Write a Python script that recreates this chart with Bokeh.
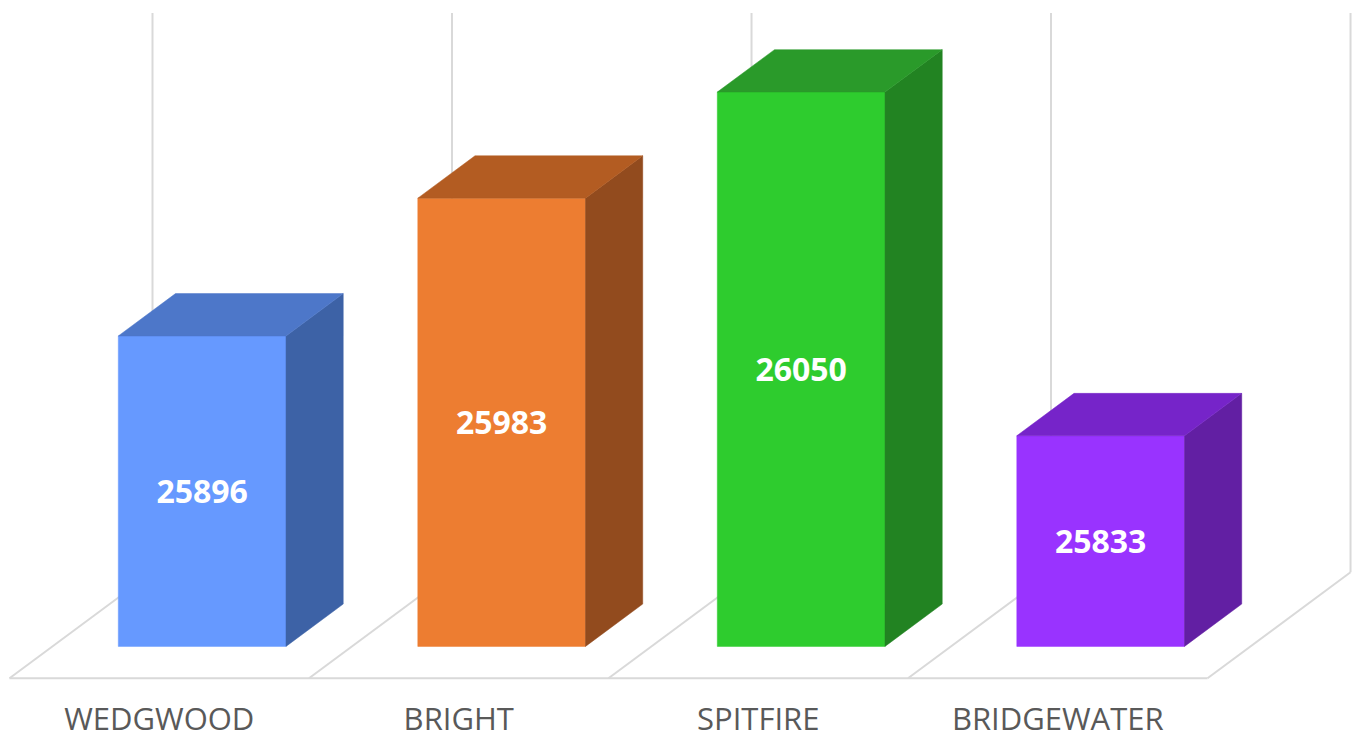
from bokeh.plotting import figure
from bokeh.models import Range1d
from bokeh.core.properties import value
from bokeh.embed import file_html
from bokeh.resources import INLINE

# ---- data ----
categories = ["WEDGWOOD", "BRIGHT", "SPITFIRE", "BRIDGEWATER"]
values = [25896, 25983, 26050, 25833]
front_colors = ["#6699ff", "#ed7d31", "#2ecc2e", "#9933ff"]
top_colors = ["#4d77c9", "#b35c22", "#2a9a2a", "#7624c9"]
side_colors = ["#3d62a6", "#924b1e", "#228322", "#621fa3"]

AXIS_MIN = 25700
WALL_TOP = 26053

# ---- 3D projection settings (x in category units, y in value units) ----
DX = 0.4775      # x shift for full floor depth
DY = 66.9        # value shift for full floor depth
Z_FRONT = 0.3
Z_BACK = 0.7
BAR_W = 0.56
LABEL_DROP = 45  # value units below floor for category label centre


def P(x, z, v):
    return x + z * DX, v + (z - Z_FRONT) * DY


p = figure(width=1360, height=740, output_backend="svg", toolbar_location=None,
           x_range=Range1d(-0.03005, 4.5108), y_range=Range1d(25640.6, 26107.8),
           x_axis_type=None, y_axis_type=None, min_border=0,
           min_border_left=0, min_border_right=0, min_border_top=0, min_border_bottom=0)
p.grid.visible = False
p.outline_line_color = None
p.background_fill_color = "white"

n = len(categories)

# floor + back wall gridlines
xs, ys = [], []
a, b = P(0, 0, AXIS_MIN), P(n, 0, AXIS_MIN)
xs.append([a[0], b[0]]); ys.append([a[1], b[1]])
for k in range(n + 1):
    a, b = P(k, 0, AXIS_MIN), P(k, 1, AXIS_MIN)
    xs.append([a[0], b[0]]); ys.append([a[1], b[1]])
    a, b = P(k, 1, AXIS_MIN), P(k, 1, WALL_TOP)
    xs.append([a[0], b[0]]); ys.append([a[1], b[1]])
p.multi_line(xs, ys, line_color="#d9d9d9", line_width=2)

# bars
fx, fy, sx, sy, tx, ty = [], [], [], [], [], []
for i, v in enumerate(values):
    xl = i + 0.5 - BAR_W / 2
    xr = xl + BAR_W
    front = [P(xl, Z_FRONT, AXIS_MIN), P(xr, Z_FRONT, AXIS_MIN), P(xr, Z_FRONT, v), P(xl, Z_FRONT, v)]
    side = [P(xr, Z_FRONT, AXIS_MIN), P(xr, Z_BACK, AXIS_MIN), P(xr, Z_BACK, v), P(xr, Z_FRONT, v)]
    top = [P(xl, Z_FRONT, v), P(xr, Z_FRONT, v), P(xr, Z_BACK, v), P(xl, Z_BACK, v)]
    fx.append([q[0] for q in front]); fy.append([q[1] for q in front])
    sx.append([q[0] for q in side]); sy.append([q[1] for q in side])
    tx.append([q[0] for q in top]); ty.append([q[1] for q in top])

p.patches(fx, fy, fill_color=front_colors, line_color=front_colors, line_width=0.5)
p.patches(sx, sy, fill_color=side_colors, line_color=side_colors, line_width=0.5)
p.patches(tx, ty, fill_color=top_colors, line_color=top_colors, line_width=0.5)

# value labels
lab_x = [i + 0.5 + Z_FRONT * DX for i in range(n)]
lab_y = [(AXIS_MIN + v) / 2 for v in values]
p.text(lab_x, lab_y, text=[str(v) for v in values], text_color="white",
       text_font=value("Open Sans"), text_font_style="bold", text_font_size="32px",
       text_align="center", text_baseline="middle")

# category labels
cat_x = [i + 0.5 for i in range(n)]
p.text(cat_x, [AXIS_MIN - LABEL_DROP] * n, text=categories, text_color="#595959",
       text_font=value("Open Sans"), text_font_size="31px",
       text_align="center", text_baseline="middle")

open("out.html", "w").write(file_html(p, INLINE))
